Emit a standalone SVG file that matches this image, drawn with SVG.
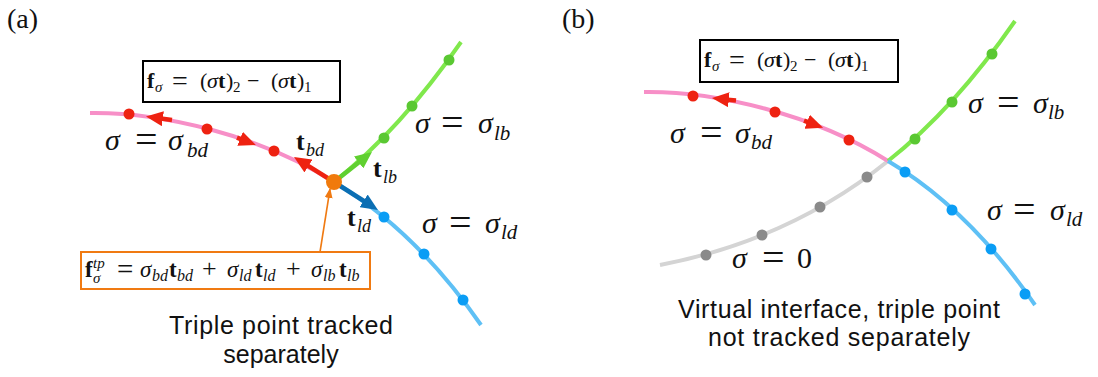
<svg xmlns="http://www.w3.org/2000/svg" width="1098" height="377" viewBox="0 0 1098 377">
<style>
.curve{fill:none;stroke-width:4}
.pink{stroke:#f78fc7}
.green{stroke:#80e84c}
.lblue{stroke:#5ec0f5}
.gray{stroke:#d4d4d4}
.dred{fill:#ee2211}
.dgreen{fill:#5ac832}
.dblue{fill:#0a9df5}
.dgray{fill:#8a8a8a}
.vec{fill:none;stroke-width:4.5}
.m{font-family:"Liberation Serif","Times New Roman",serif;fill:#111}
.it{font-style:italic}
.bf{font-weight:bold}
.cap{font-family:"Liberation Sans",Arial,sans-serif;font-size:25px;text-anchor:middle;fill:#111}
.box{fill:#fff;stroke:#000;stroke-width:2}
</style>
<defs>
<marker id="ah-red" viewBox="0 0 17 15" markerWidth="17" markerHeight="15" refX="4" refY="7.5" orient="auto" markerUnits="userSpaceOnUse"><path d="M0,0 L17,7.5 L0,15 z" fill="#ee2211"/></marker>
<marker id="ah-green" viewBox="0 0 17 15" markerWidth="17" markerHeight="15" refX="4" refY="7.5" orient="auto" markerUnits="userSpaceOnUse"><path d="M0,0 L17,7.5 L0,15 z" fill="#60d030"/></marker>
<marker id="ah-blue" viewBox="0 0 17 15" markerWidth="17" markerHeight="15" refX="4" refY="7.5" orient="auto" markerUnits="userSpaceOnUse"><path d="M0,0 L17,7.5 L0,15 z" fill="#0b6eb3"/></marker>
<marker id="ah-orange" viewBox="0 0 10 8" markerWidth="10" markerHeight="8" refX="9" refY="4" orient="auto" markerUnits="userSpaceOnUse"><path d="M0,0 L10,4 L0,8 z" fill="#f07a12"/></marker>
</defs>
<rect width="1098" height="377" fill="#fff"/>

<!-- Panel (a) -->
<g id="panel-a">
<text id="label-a" class="m" x="7" y="28" font-size="28">(a)</text>
<g id="connectors-a">
<path class="curve pink" d="M90,113 C160,112 260,135 334,182"/>
<path class="curve green" d="M334,182 Q400,130 461,42"/>
<path class="curve lblue" d="M334,182 Q415,230 481,325"/>
<path class="vec" stroke="#ee2211" d="M172,120 L158.9,118.2" marker-end="url(#ah-red)"/>
<path class="vec" stroke="#ee2211" d="M237,137.6 L243.8,140.3" marker-end="url(#ah-red)"/>
<path class="vec" stroke="#ee2211" d="M334,182 L305,163.9" marker-end="url(#ah-red)"/>
<path class="vec" stroke="#60d030" d="M334,182 L361.8,160" marker-end="url(#ah-green)"/>
<path class="vec" stroke="#0b6eb3" d="M334,182 L367,203" marker-end="url(#ah-blue)"/>
<path fill="none" stroke="#f07a12" stroke-width="1.6" d="M320,252 L330,189" marker-end="url(#ah-orange)"/>
</g>
<g id="dots-a">
<circle class="dred" cx="129" cy="114" r="5.5"/>
<circle class="dred" cx="207" cy="129" r="5.5"/>
<circle class="dred" cx="274" cy="151" r="5.5"/>
<circle class="dgreen" cx="384" cy="138" r="5.5"/>
<circle class="dgreen" cx="412" cy="106" r="5.5"/>
<circle class="dgreen" cx="449" cy="60" r="5.5"/>
<circle class="dblue" cx="384" cy="217" r="5.5"/>
<circle class="dblue" cx="424" cy="254" r="5.5"/>
<circle class="dblue" cx="463" cy="300" r="5.5"/>
</g>
<g id="triple-point-a"><circle cx="334" cy="182" r="8" fill="#f07a0c"/></g>
<g id="box-f-a">
<rect class="box" x="143" y="61" width="197" height="41"/>
<text class="m" y="88" font-size="22"><tspan x="147" class="bf">f</tspan><tspan x="155" y="92" font-size="15" class="it">σ</tspan><tspan x="172" y="89.5" font-size="28">=</tspan><tspan x="200" y="88">(</tspan><tspan x="207" class="it">σ</tspan><tspan x="218" class="bf">t</tspan><tspan x="226">)</tspan><tspan x="233" y="92" font-size="15">2</tspan><tspan x="247" y="88">−</tspan><tspan x="271">(</tspan><tspan x="278" class="it">σ</tspan><tspan x="289" class="bf">t</tspan><tspan x="297">)</tspan><tspan x="304" y="92" font-size="15">1</tspan></text>
</g>
<g id="box-ftp-a">
<rect x="81" y="252" width="289" height="37" fill="#fff" stroke="#f07a12" stroke-width="2"/>
<text class="m" y="277" font-size="23"><tspan x="85" class="bf">f</tspan><tspan x="93" y="283" font-size="15" class="it">σ</tspan><tspan x="93" y="268" font-size="15" class="it">tp</tspan><tspan x="117" y="279" font-size="29">=</tspan><tspan x="140" y="277" class="it">σ</tspan><tspan x="152" y="281" font-size="16" class="it">bd</tspan><tspan x="169" y="277" class="bf">t</tspan><tspan x="177" y="281" font-size="16" class="it">bd</tspan><tspan x="202" y="277" font-size="26">+</tspan><tspan x="227" y="277" class="it">σ</tspan><tspan x="239" y="281" font-size="16" class="it">ld</tspan><tspan x="255" y="277" class="bf">t</tspan><tspan x="263" y="281" font-size="16" class="it">ld</tspan><tspan x="286" y="277" font-size="26">+</tspan><tspan x="311" y="277" class="it">σ</tspan><tspan x="323" y="281" font-size="16" class="it">lb</tspan><tspan x="339" y="277" class="bf">t</tspan><tspan x="347" y="281" font-size="16" class="it">lb</tspan></text>
</g>
<g id="labels-a">
<text class="m" y="150" font-size="30"><tspan x="105" class="it">σ</tspan><tspan x="135" y="152.5" font-size="40">=</tspan><tspan x="168" y="150" class="it">σ</tspan><tspan x="187" y="157" font-size="21" class="it">bd</tspan></text>
<text class="m" y="133" font-size="30"><tspan x="415" class="it">σ</tspan><tspan x="441" y="135.5" font-size="40">=</tspan><tspan x="478" y="133" class="it">σ</tspan><tspan x="494" y="140" font-size="21" class="it">lb</tspan></text>
<text class="m" y="233" font-size="30"><tspan x="422" class="it">σ</tspan><tspan x="449" y="235.5" font-size="40">=</tspan><tspan x="485" y="233" class="it">σ</tspan><tspan x="501" y="239" font-size="21" class="it">ld</tspan></text>
<text class="m" y="150" font-size="26"><tspan x="296" class="bf">t</tspan><tspan x="306" y="156" font-size="18" class="it">bd</tspan></text>
<text class="m" y="177" font-size="26"><tspan x="373" class="bf">t</tspan><tspan x="383" y="183" font-size="18" class="it">lb</tspan></text>
<text class="m" y="226" font-size="26"><tspan x="347" class="bf">t</tspan><tspan x="357" y="232" font-size="18" class="it">ld</tspan></text>
</g>
<g id="caption-a">
<text class="cap" x="281" y="334" textLength="224" lengthAdjust="spacing">Triple point tracked</text>
<text class="cap" x="281" y="363">separately</text>
</g>
</g>

<!-- Panel (b) -->
<g id="panel-b">
<text id="label-b" class="m" x="562" y="28" font-size="28">(b)</text>
<g id="connectors-b">
<path class="curve gray" d="M660,265 Q790,240 888,161"/>
<path class="curve pink" d="M644,92 C714,91 814,114 888,161"/>
<path class="curve green" d="M888,161 Q954,109 1015,21"/>
<path class="curve lblue" d="M888,161 Q969,209 1035,305"/>
<path class="vec" stroke="#ee2211" d="M736,100.5 L724.9,99.4" marker-end="url(#ah-red)"/>
<path class="vec" stroke="#ee2211" d="M804,120.6 L810.9,123.2" marker-end="url(#ah-red)"/>
</g>
<g id="dots-b">
<circle class="dred" cx="693" cy="96" r="5.5"/>
<circle class="dred" cx="775" cy="112" r="5.5"/>
<circle class="dred" cx="849" cy="140" r="5.5"/>
<circle class="dgreen" cx="915" cy="139" r="5.5"/>
<circle class="dgreen" cx="952" cy="102" r="5.5"/>
<circle class="dgreen" cx="992" cy="54" r="5.5"/>
<circle class="dblue" cx="905" cy="172" r="5.5"/>
<circle class="dblue" cx="952" cy="210" r="5.5"/>
<circle class="dblue" cx="991" cy="249" r="5.5"/>
<circle class="dblue" cx="1025" cy="294" r="5.5"/>
<circle class="dgray" cx="706" cy="255" r="5.5"/>
<circle class="dgray" cx="762" cy="235" r="5.5"/>
<circle class="dgray" cx="820" cy="207" r="5.5"/>
<circle class="dgray" cx="867" cy="177" r="5.5"/>
</g>
<g id="box-f-b">
<rect class="box" x="700" y="40" width="198" height="42"/>
<text class="m" y="67" font-size="22"><tspan x="704" class="bf">f</tspan><tspan x="712" y="71" font-size="15" class="it">σ</tspan><tspan x="729" y="68.5" font-size="28">=</tspan><tspan x="757" y="67">(</tspan><tspan x="764" class="it">σ</tspan><tspan x="775" class="bf">t</tspan><tspan x="783">)</tspan><tspan x="790" y="71" font-size="15">2</tspan><tspan x="804" y="67">−</tspan><tspan x="828">(</tspan><tspan x="835" class="it">σ</tspan><tspan x="846" class="bf">t</tspan><tspan x="854">)</tspan><tspan x="861" y="71" font-size="15">1</tspan></text>
</g>
<g id="labels-b">
<text class="m" y="143" font-size="30"><tspan x="670" class="it">σ</tspan><tspan x="700" y="145.5" font-size="40">=</tspan><tspan x="735" y="143" class="it">σ</tspan><tspan x="751" y="149" font-size="21" class="it">bd</tspan></text>
<text class="m" y="113" font-size="30"><tspan x="968" class="it">σ</tspan><tspan x="997" y="115.5" font-size="40">=</tspan><tspan x="1033" y="113" class="it">σ</tspan><tspan x="1048" y="119" font-size="21" class="it">lb</tspan></text>
<text class="m" y="220" font-size="30"><tspan x="987" class="it">σ</tspan><tspan x="1013" y="222.5" font-size="40">=</tspan><tspan x="1050" y="220" class="it">σ</tspan><tspan x="1066" y="226" font-size="21" class="it">ld</tspan></text>
<text class="m" y="268" font-size="30"><tspan x="732" class="it">σ</tspan><tspan x="762" y="270.5" font-size="40">=</tspan><tspan x="797" y="268">0</tspan></text>
</g>
<g id="caption-b">
<text class="cap" x="839" y="318" textLength="322" lengthAdjust="spacing">Virtual interface, triple point</text>
<text class="cap" x="839" y="346" textLength="262" lengthAdjust="spacing">not tracked separately</text>
</g>
</g>
</svg>
